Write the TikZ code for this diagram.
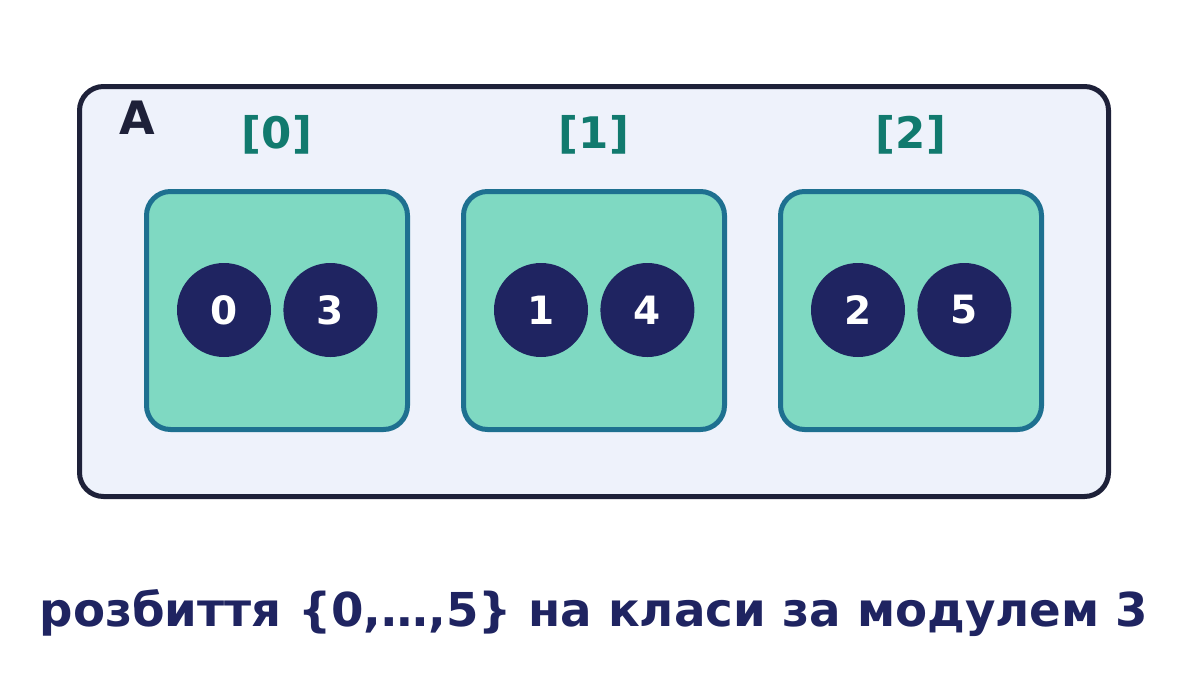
\documentclass[tikz,border=0pt]{standalone}
\usepackage{fontspec}
\setmainfont{DejaVu Sans}
\usepackage{tikz}
\usetikzlibrary{positioning}
\definecolor{frameA}{HTML}{1E2139}
\definecolor{fillA}{HTML}{EEF2FB}
\definecolor{clsfill}{HTML}{7FD9C2}
\definecolor{clsline}{HTML}{1E7090}
\definecolor{dotfill}{HTML}{1F2461}
\definecolor{labcol}{HTML}{117A6E}
\tikzset{
  setbox/.style={draw=frameA,fill=fillA,line width=5pt,rounded corners=24pt,minimum width=1029pt,minimum height=410pt,inner sep=0pt},
  clsbox/.style={draw=clsline,fill=clsfill,line width=5pt,rounded corners=24pt,minimum width=261pt,minimum height=238pt,inner sep=0pt},
  elem/.style={circle,fill=dotfill,text=white,minimum size=94pt,inner sep=0pt,font=\fontsize{39}{40}\selectfont\bfseries},
  clslab/.style={text=labcol,font=\fontsize{43.5}{46}\selectfont\bfseries}
}
\begin{document}
\begin{tikzpicture}[x=1pt,y=-1pt]
  \useasboundingbox (0,0) rectangle (1188,673);
  \node[setbox] (A) at (594,291.5) {};
  \node[text=frameA,font=\fontsize{46}{48}\selectfont\bfseries] (nameA) at (137,118) {A};
  \node[clsbox] (cls0) at (277,310.5) {};
  \node[clsbox] [right=51pt of cls0] (cls1) {};
  \node[clsbox] [right=51pt of cls1] (cls2) {};
  \node[clslab] [above=31pt of cls0] (lab0) {[0]};
  \node[clslab] [above=31pt of cls1] (lab1) {[1]};
  \node[clslab] [above=31pt of cls2] (lab2) {[2]};
  \node[elem] (e0) at (224,310) {0};
  \node[elem] [right=12pt of e0] (e3) {3};
  \node[elem] (e1) at (541,310) {1};
  \node[elem] [right=12pt of e1] (e4) {4};
  \node[elem] (e2) at (858,310) {2};
  \node[elem] [right=12pt of e2] (e5) {5};
  \node[text=dotfill,font=\fontsize{46.7}{50}\selectfont\bfseries] (caption) at (594,613) {розбиття \{0,…,5\} на класи за модулем 3};
\end{tikzpicture}
\end{document}
